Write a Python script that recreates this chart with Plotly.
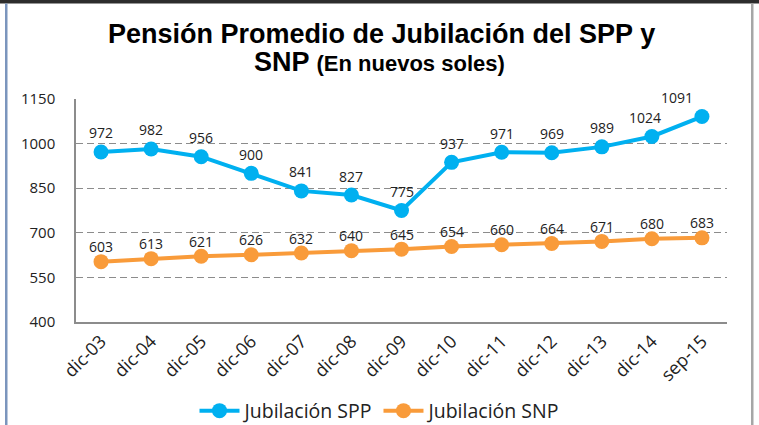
import plotly.graph_objects as go

categories = ["dic-03", "dic-04", "dic-05", "dic-06", "dic-07", "dic-08", "dic-09",
              "dic-10", "dic-11", "dic-12", "dic-13", "dic-14", "sep-15"]
spp_values = [972, 982, 956, 900, 841, 827, 775, 937, 971, 969, 989, 1024, 1091]
snp_values = [603, 613, 621, 626, 632, 640, 645, 654, 660, 664, 671, 680, 683]
y_ticks = [400, 550, 700, 850, 1000, 1150]

SPP_COLOR = "#00B0F0"
SNP_COLOR = "#F99B3A"
FONT = "Open Sans"

W, H = 759, 425
L, R, T, B = 76, 32, 99, 103
PW, PH = W - L - R, H - T - B

def px_x(p):
    return (p - L) / PW

def px_y(p):
    return (H - B - p) / PH

fig = go.Figure()
fig.add_trace(go.Scatter(x=categories, y=spp_values, name="Jubilación SPP", mode="lines+markers",
                         line=dict(color=SPP_COLOR, width=4), marker=dict(size=15, color=SPP_COLOR)))
fig.add_trace(go.Scatter(x=categories, y=snp_values, name="Jubilación SNP", mode="lines+markers",
                         line=dict(color=SNP_COLOR, width=4), marker=dict(size=15, color=SNP_COLOR)))

label_xshift = {"dic-14": -7, "sep-15": -25}
for c, v in zip(categories, spp_values):
    fig.add_annotation(x=c, y=v, text=str(v), showarrow=False, yshift=19,
                       xshift=label_xshift.get(c, 0), font=dict(family=FONT, size=14, color="#222"))
for c, v in zip(categories, snp_values):
    fig.add_annotation(x=c, y=v, text=str(v), showarrow=False, yshift=15,
                       font=dict(family=FONT, size=14, color="#222"))

# title as two annotations for tight line spacing
fig.add_annotation(xref="paper", yref="paper", x=px_x(381), y=px_y(34), xanchor="center", yanchor="middle",
                   showarrow=False, text="<b>Pensión Promedio de Jubilación del SPP y</b>",
                   font=dict(family="Liberation Sans", size=27, color="black"))
fig.add_annotation(xref="paper", yref="paper", x=px_x(379), y=px_y(62), xanchor="center", yanchor="middle",
                   showarrow=False,
                   text="<b>SNP <span style='font-size:22px'>(En nuevos soles)</span></b>",
                   font=dict(family="Liberation Sans", size=27, color="black"))

shapes = [
    dict(type="rect", xref="paper", yref="paper", x0=px_x(0), x1=px_x(W), y0=px_y(3.5), y1=px_y(0),
         fillcolor="#2d2d2d", line=dict(width=0), layer="above"),
    dict(type="rect", xref="paper", yref="paper", x0=px_x(5), x1=px_x(7.5), y0=px_y(H), y1=px_y(3.5),
         fillcolor="#7b95bd", line=dict(width=0), layer="above"),
    dict(type="rect", xref="paper", yref="paper", x0=px_x(751), x1=px_x(753.5), y0=px_y(H), y1=px_y(3.5),
         fillcolor="#a6a6a6", line=dict(width=0), layer="above"),
]

fig.update_layout(
    width=W, height=H,
    margin=dict(l=L, r=R, t=T, b=B, autoexpand=False),
    paper_bgcolor="white", plot_bgcolor="white",
    showlegend=True,
    legend=dict(orientation="h", x=px_x(380), xanchor="center", y=px_y(411), yanchor="middle",
                font=dict(family=FONT, size=19.5, color="#222"), itemwidth=40,
                bgcolor="rgba(0,0,0,0)"),
    shapes=shapes,
    xaxis=dict(type="category", range=[-0.5, len(categories) - 0.5], showgrid=False,
               showline=True, linecolor="#8c8c8c", linewidth=1.5, ticks="",
               tickangle=-45, tickfont=dict(family=FONT, size=18, color="#222"), fixedrange=True),
    yaxis=dict(range=[400, 1150], tickvals=y_ticks, showgrid=True, gridcolor="#8c8c8c",
               griddash="7px,4px", gridwidth=1, showline=True, linecolor="#8c8c8c", linewidth=1.5,
               ticks="", ticklabelstandoff=16, zeroline=False,
               tickfont=dict(family=FONT, size=15, color="#222")),
)

fig.write_html("out.html", config={"displayModeBar": False},
               post_script="document.body.style.margin='0px';document.body.style.overflow='hidden';")
